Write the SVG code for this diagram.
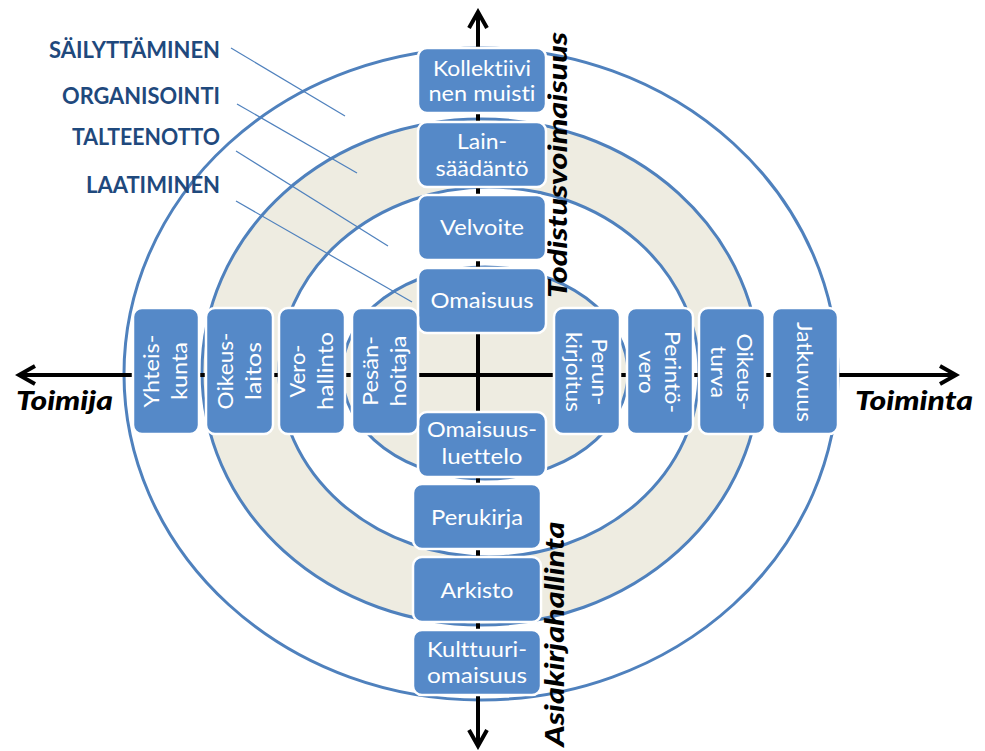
<svg xmlns="http://www.w3.org/2000/svg" width="985" height="751" viewBox="0 0 985 751">
<defs>
<style>
text{font-variant-ligatures:none;font-feature-settings:"liga" 0,"clig" 0}
.ring{stroke:#4F81BD;stroke-width:3}
.box{fill:#5589C8;stroke:#fff;stroke-width:2.5}
.bt{font-family:Lato,'Liberation Sans',sans-serif;font-size:21px;fill:#fff;text-anchor:middle}
.lab{font-family:Lato,'Liberation Sans',sans-serif;font-size:22px;font-weight:bold;fill:#1F497D;text-anchor:end}
.ax{font-family:Lato,'Liberation Sans',sans-serif;font-size:26px;font-weight:900;font-style:italic;fill:#000}
.lead{stroke:#4F81BD;stroke-width:1.2;fill:none}
.axis{stroke:#000;stroke-width:4;fill:none}
</style>
<marker id="ah" viewBox="-20 -12 24 24" refX="0" refY="0" markerWidth="24" markerHeight="24" markerUnits="userSpaceOnUse" orient="auto-start-reverse">
<path d="M-16,-9 L0,0 L-16,9" fill="none" stroke="#000" stroke-width="4"/>
</marker>
</defs>
<rect width="985" height="751" fill="#fff"/>
<g id="rings">
<ellipse class="ring" cx="481" cy="374" rx="357" ry="326" fill="#fff"/>
<ellipse class="ring" cx="481" cy="372" rx="279" ry="253" fill="#EEECE1"/>
<ellipse class="ring" cx="489" cy="372" rx="210" ry="185" fill="#fff"/>
<ellipse class="ring" cx="485" cy="373" rx="143" ry="106" fill="#EEECE1"/>
</g>
<g id="labels">
<text class="lab" x="220" y="58" textLength="171" lengthAdjust="spacingAndGlyphs">SÄILYTTÄMINEN</text>
<text class="lab" x="220" y="104" textLength="158" lengthAdjust="spacingAndGlyphs">ORGANISOINTI</text>
<text class="lab" x="220" y="145" textLength="148" lengthAdjust="spacingAndGlyphs">TALTEENOTTO</text>
<text class="lab" x="220" y="193" textLength="134" lengthAdjust="spacingAndGlyphs">LAATIMINEN</text>
</g>
<g id="connectors">
<line class="lead" x1="231" y1="48" x2="345" y2="116"/>
<line class="lead" x1="237" y1="104" x2="357" y2="173"/>
<line class="lead" x1="236" y1="151" x2="388" y2="246"/>
<line class="lead" x1="236" y1="201" x2="412" y2="302"/>
<line class="axis" x1="19" y1="375" x2="956" y2="375" marker-start="url(#ah)" marker-end="url(#ah)"/>
<line class="axis" x1="478" y1="12" x2="478" y2="746" marker-start="url(#ah)" marker-end="url(#ah)"/>
</g>
<g id="axis-labels">
<text class="ax" x="16" y="410" textLength="97" lengthAdjust="spacingAndGlyphs">Toimija</text>
<text class="ax" x="855" y="410" textLength="118" lengthAdjust="spacingAndGlyphs">Toiminta</text>
<text class="ax" transform="translate(567,165) rotate(-90)" text-anchor="middle" textLength="266" lengthAdjust="spacingAndGlyphs">Todistusvoimaisuus</text>
<text class="ax" transform="translate(564,634) rotate(-90)" text-anchor="middle" textLength="225" lengthAdjust="spacingAndGlyphs">Asiakirjahallinta</text>
</g>
<g id="n-kollektiivi"><rect class="box" x="418" y="48" width="128" height="65" rx="9"/>
<text class="bt" x="482" y="76" textLength="98" lengthAdjust="spacingAndGlyphs">Kollektiivi</text>
<text class="bt" x="482" y="101" textLength="107" lengthAdjust="spacingAndGlyphs">nen muisti</text></g>
<g id="n-lainsaadanto"><rect class="box" x="418" y="122" width="128" height="65" rx="9"/>
<text class="bt" x="482" y="149" textLength="50" lengthAdjust="spacingAndGlyphs">Lain-</text>
<text class="bt" x="482" y="176" textLength="93" lengthAdjust="spacingAndGlyphs">säädäntö</text></g>
<g id="n-velvoite"><rect class="box" x="418" y="195" width="128" height="65" rx="9"/>
<text class="bt" x="482" y="235" textLength="84" lengthAdjust="spacingAndGlyphs">Velvoite</text></g>
<g id="n-omaisuus"><rect class="box" x="418" y="268" width="128" height="65" rx="9"/>
<text class="bt" x="482" y="308" textLength="103" lengthAdjust="spacingAndGlyphs">Omaisuus</text></g>
<g id="n-omaisuusluettelo"><rect class="box" x="418" y="412" width="128" height="65" rx="9"/>
<text class="bt" x="482" y="437" textLength="110" lengthAdjust="spacingAndGlyphs">Omaisuus-</text>
<text class="bt" x="482" y="464" textLength="81" lengthAdjust="spacingAndGlyphs">luettelo</text></g>
<g id="n-perukirja"><rect class="box" x="413" y="484" width="128" height="65" rx="9"/>
<text class="bt" x="477" y="525" textLength="92" lengthAdjust="spacingAndGlyphs">Perukirja</text></g>
<g id="n-arkisto"><rect class="box" x="413" y="557" width="128" height="65" rx="9"/>
<text class="bt" x="477" y="598" textLength="73" lengthAdjust="spacingAndGlyphs">Arkisto</text></g>
<g id="n-kulttuuriomaisuus"><rect class="box" x="413" y="630" width="128" height="65" rx="9"/>
<text class="bt" x="477" y="657" textLength="100" lengthAdjust="spacingAndGlyphs">Kulttuuri-</text>
<text class="bt" x="477" y="683" textLength="100" lengthAdjust="spacingAndGlyphs">omaisuus</text></g>
<g id="n-yhteiskunta"><rect class="box" x="133" y="308" width="66" height="126" rx="9"/>
<g transform="translate(166,371) rotate(-90)"><text class="bt" x="0" y="-7" textLength="73" lengthAdjust="spacingAndGlyphs">Yhteis-</text><text class="bt" x="0" y="21" textLength="58" lengthAdjust="spacingAndGlyphs">kunta</text></g></g>
<g id="n-oikeuslaitos"><rect class="box" x="206" y="308" width="67" height="126" rx="9"/>
<g transform="translate(239.5,371) rotate(-90)"><text class="bt" x="0" y="-7" textLength="77" lengthAdjust="spacingAndGlyphs">Oikeus-</text><text class="bt" x="0" y="21" textLength="58" lengthAdjust="spacingAndGlyphs">laitos</text></g></g>
<g id="n-verohallinto"><rect class="box" x="279" y="308" width="66" height="126" rx="9"/>
<g transform="translate(312,371) rotate(-90)"><text class="bt" x="0" y="-7" textLength="53" lengthAdjust="spacingAndGlyphs">Vero-</text><text class="bt" x="0" y="21" textLength="78" lengthAdjust="spacingAndGlyphs">hallinto</text></g></g>
<g id="n-pesanhoitaja"><rect class="box" x="352" y="308" width="66" height="126" rx="9"/>
<g transform="translate(385,371) rotate(-90)"><text class="bt" x="0" y="-7" textLength="70" lengthAdjust="spacingAndGlyphs">Pesän-</text><text class="bt" x="0" y="21" textLength="71" lengthAdjust="spacingAndGlyphs">hoitaja</text></g></g>
<g id="n-perunkirjoitus"><rect class="box" x="554" y="308" width="66" height="126" rx="9"/>
<g transform="translate(587,372) rotate(90)"><text class="bt" x="0" y="-5" textLength="67" lengthAdjust="spacingAndGlyphs">Perun-</text><text class="bt" x="0" y="21" textLength="80" lengthAdjust="spacingAndGlyphs">kirjoitus</text></g></g>
<g id="n-perintovero"><rect class="box" x="627" y="308" width="66" height="126" rx="9"/>
<g transform="translate(660,372) rotate(90)"><text class="bt" x="0" y="-5" textLength="82" lengthAdjust="spacingAndGlyphs">Perintö-</text><text class="bt" x="0" y="21" textLength="43" lengthAdjust="spacingAndGlyphs">vero</text></g></g>
<g id="n-oikeusturva"><rect class="box" x="699" y="308" width="66" height="126" rx="9"/>
<g transform="translate(732,372) rotate(90)"><text class="bt" x="0" y="-5" textLength="77" lengthAdjust="spacingAndGlyphs">Oikeus-</text><text class="bt" x="0" y="21" textLength="52" lengthAdjust="spacingAndGlyphs">turva</text></g></g>
<g id="n-jatkuvuus"><rect class="box" x="772" y="308" width="66" height="126" rx="9"/>
<g transform="translate(805,372) rotate(90)"><text class="bt" x="0" y="8" textLength="100" lengthAdjust="spacingAndGlyphs">Jatkuvuus</text></g></g>
</svg>
